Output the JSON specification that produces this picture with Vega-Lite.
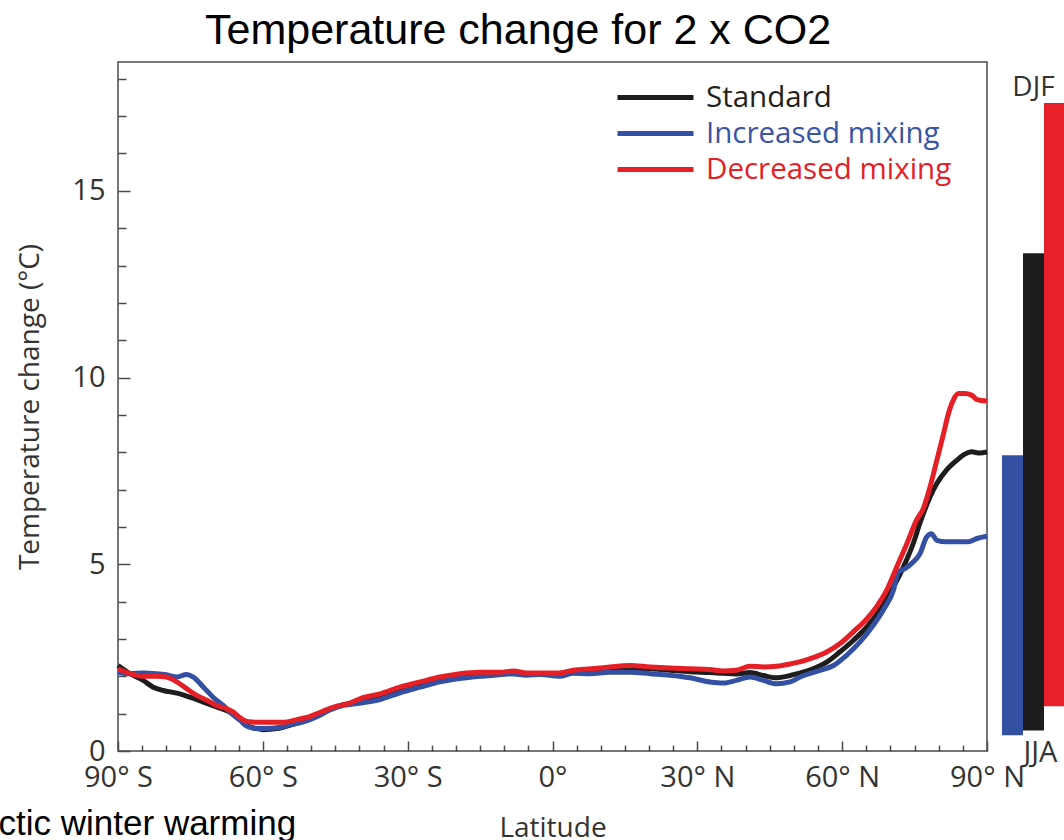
{
  "$schema": "https://vega.github.io/schema/vega-lite/v6.json",
  "autosize": {"type": "none"},
  "padding": {"left": 118, "top": 62, "right": 946, "bottom": 778},
  "background": "white",
  "bounds": "flush",
  "config": {
    "view": {"stroke": null},
    "font": "Open Sans",
    "text": {"font": "Open Sans"}
  },
  "title": {
    "text": "Temperature change for 2 x CO2",
    "font": "Liberation Sans",
    "fontSize": 43,
    "fontWeight": "normal",
    "color": "#000000",
    "anchor": "start",
    "frame": "group",
    "dx": 87,
    "offset": 8
  },
  "datasets": {
    "profiles": [
      {"lat": -90, "series": "Standard", "dT": 2.29},
      {"lat": -87.5, "series": "Standard", "dT": 2.07},
      {"lat": -84.8, "series": "Standard", "dT": 1.89},
      {"lat": -82.7, "series": "Standard", "dT": 1.71},
      {"lat": -80.6, "series": "Standard", "dT": 1.62},
      {"lat": -77.8, "series": "Standard", "dT": 1.55},
      {"lat": -75.1, "series": "Standard", "dT": 1.44},
      {"lat": -72.3, "series": "Standard", "dT": 1.31},
      {"lat": -69.6, "series": "Standard", "dT": 1.18},
      {"lat": -66.8, "series": "Standard", "dT": 1.04},
      {"lat": -64.7, "series": "Standard", "dT": 0.86},
      {"lat": -63.3, "series": "Standard", "dT": 0.69},
      {"lat": -61.3, "series": "Standard", "dT": 0.6},
      {"lat": -59.9, "series": "Standard", "dT": 0.57},
      {"lat": -57.1, "series": "Standard", "dT": 0.6},
      {"lat": -54.4, "series": "Standard", "dT": 0.69},
      {"lat": -51.6, "series": "Standard", "dT": 0.8},
      {"lat": -48.8, "series": "Standard", "dT": 0.95},
      {"lat": -46.1, "series": "Standard", "dT": 1.12},
      {"lat": -43.3, "series": "Standard", "dT": 1.24},
      {"lat": -40, "series": "Standard", "dT": 1.33},
      {"lat": -35.7, "series": "Standard", "dT": 1.47},
      {"lat": -31.6, "series": "Standard", "dT": 1.65},
      {"lat": -27.4, "series": "Standard", "dT": 1.79},
      {"lat": -23.3, "series": "Standard", "dT": 1.92},
      {"lat": -19.2, "series": "Standard", "dT": 2.01},
      {"lat": -15, "series": "Standard", "dT": 2.06},
      {"lat": -10.9, "series": "Standard", "dT": 2.08},
      {"lat": -6, "series": "Standard", "dT": 2.06},
      {"lat": -2.6, "series": "Standard", "dT": 2.05},
      {"lat": 1.5, "series": "Standard", "dT": 2.04},
      {"lat": 4.3, "series": "Standard", "dT": 2.1},
      {"lat": 8.4, "series": "Standard", "dT": 2.14},
      {"lat": 12, "series": "Standard", "dT": 2.2},
      {"lat": 16, "series": "Standard", "dT": 2.22},
      {"lat": 20.2, "series": "Standard", "dT": 2.2},
      {"lat": 24.3, "series": "Standard", "dT": 2.16},
      {"lat": 28.5, "series": "Standard", "dT": 2.12},
      {"lat": 32.6, "series": "Standard", "dT": 2.1},
      {"lat": 35.4, "series": "Standard", "dT": 2.08},
      {"lat": 38.1, "series": "Standard", "dT": 2.06},
      {"lat": 40.9, "series": "Standard", "dT": 2.1},
      {"lat": 43.7, "series": "Standard", "dT": 2.02},
      {"lat": 46, "series": "Standard", "dT": 1.96},
      {"lat": 49.2, "series": "Standard", "dT": 2.02},
      {"lat": 51, "series": "Standard", "dT": 2.08},
      {"lat": 54, "series": "Standard", "dT": 2.2},
      {"lat": 56.8, "series": "Standard", "dT": 2.38},
      {"lat": 59.5, "series": "Standard", "dT": 2.65},
      {"lat": 62.3, "series": "Standard", "dT": 2.96},
      {"lat": 65.1, "series": "Standard", "dT": 3.32},
      {"lat": 67.8, "series": "Standard", "dT": 3.77},
      {"lat": 70.6, "series": "Standard", "dT": 4.39},
      {"lat": 72.7, "series": "Standard", "dT": 4.93},
      {"lat": 74.7, "series": "Standard", "dT": 5.55},
      {"lat": 76.1, "series": "Standard", "dT": 6.1},
      {"lat": 78.2, "series": "Standard", "dT": 6.8},
      {"lat": 79.6, "series": "Standard", "dT": 7.16},
      {"lat": 81.6, "series": "Standard", "dT": 7.52},
      {"lat": 83.7, "series": "Standard", "dT": 7.78},
      {"lat": 85.4, "series": "Standard", "dT": 7.95},
      {"lat": 86.8, "series": "Standard", "dT": 8.01},
      {"lat": 88.5, "series": "Standard", "dT": 7.98},
      {"lat": 90, "series": "Standard", "dT": 8.01},

      {"lat": -90, "series": "Increased mixing", "dT": 2.11},
      {"lat": -87.5, "series": "Increased mixing", "dT": 2.07},
      {"lat": -84.8, "series": "Increased mixing", "dT": 2.09},
      {"lat": -82, "series": "Increased mixing", "dT": 2.07},
      {"lat": -80, "series": "Increased mixing", "dT": 2.04},
      {"lat": -77.8, "series": "Increased mixing", "dT": 1.98},
      {"lat": -75.8, "series": "Increased mixing", "dT": 2.05},
      {"lat": -74.4, "series": "Increased mixing", "dT": 1.98},
      {"lat": -72.3, "series": "Increased mixing", "dT": 1.71},
      {"lat": -70.3, "series": "Increased mixing", "dT": 1.44},
      {"lat": -68.2, "series": "Increased mixing", "dT": 1.22},
      {"lat": -66.8, "series": "Increased mixing", "dT": 1.04},
      {"lat": -64.7, "series": "Increased mixing", "dT": 0.82},
      {"lat": -63.3, "series": "Increased mixing", "dT": 0.66},
      {"lat": -61.3, "series": "Increased mixing", "dT": 0.6},
      {"lat": -59.2, "series": "Increased mixing", "dT": 0.6},
      {"lat": -57.1, "series": "Increased mixing", "dT": 0.62},
      {"lat": -54.4, "series": "Increased mixing", "dT": 0.7},
      {"lat": -51.6, "series": "Increased mixing", "dT": 0.78},
      {"lat": -48.8, "series": "Increased mixing", "dT": 0.92},
      {"lat": -46.1, "series": "Increased mixing", "dT": 1.1},
      {"lat": -43.3, "series": "Increased mixing", "dT": 1.22},
      {"lat": -40, "series": "Increased mixing", "dT": 1.28},
      {"lat": -35.7, "series": "Increased mixing", "dT": 1.38},
      {"lat": -31.6, "series": "Increased mixing", "dT": 1.56},
      {"lat": -27.4, "series": "Increased mixing", "dT": 1.71},
      {"lat": -23.3, "series": "Increased mixing", "dT": 1.85},
      {"lat": -19.2, "series": "Increased mixing", "dT": 1.94},
      {"lat": -15, "series": "Increased mixing", "dT": 2.0},
      {"lat": -10.9, "series": "Increased mixing", "dT": 2.04},
      {"lat": -8.1, "series": "Increased mixing", "dT": 2.07},
      {"lat": -5.4, "series": "Increased mixing", "dT": 2.03},
      {"lat": -2.6, "series": "Increased mixing", "dT": 2.05},
      {"lat": 1.5, "series": "Increased mixing", "dT": 2.0},
      {"lat": 4.3, "series": "Increased mixing", "dT": 2.08},
      {"lat": 7.8, "series": "Increased mixing", "dT": 2.07},
      {"lat": 11.9, "series": "Increased mixing", "dT": 2.11},
      {"lat": 16, "series": "Increased mixing", "dT": 2.11},
      {"lat": 20.2, "series": "Increased mixing", "dT": 2.07},
      {"lat": 24.3, "series": "Increased mixing", "dT": 2.03},
      {"lat": 28.5, "series": "Increased mixing", "dT": 1.96},
      {"lat": 32.6, "series": "Increased mixing", "dT": 1.85},
      {"lat": 35.4, "series": "Increased mixing", "dT": 1.82},
      {"lat": 38.1, "series": "Increased mixing", "dT": 1.89},
      {"lat": 40.9, "series": "Increased mixing", "dT": 1.98},
      {"lat": 43.7, "series": "Increased mixing", "dT": 1.89},
      {"lat": 46.4, "series": "Increased mixing", "dT": 1.8},
      {"lat": 49.2, "series": "Increased mixing", "dT": 1.85},
      {"lat": 51.3, "series": "Increased mixing", "dT": 1.98},
      {"lat": 55.4, "series": "Increased mixing", "dT": 2.16},
      {"lat": 58.2, "series": "Increased mixing", "dT": 2.29},
      {"lat": 60.9, "series": "Increased mixing", "dT": 2.56},
      {"lat": 63.7, "series": "Increased mixing", "dT": 2.92},
      {"lat": 66.4, "series": "Increased mixing", "dT": 3.36},
      {"lat": 68.5, "series": "Increased mixing", "dT": 3.77},
      {"lat": 70.6, "series": "Increased mixing", "dT": 4.3},
      {"lat": 71.6, "series": "Increased mixing", "dT": 4.79},
      {"lat": 73, "series": "Increased mixing", "dT": 4.88},
      {"lat": 74.7, "series": "Increased mixing", "dT": 5.06},
      {"lat": 76.1, "series": "Increased mixing", "dT": 5.28},
      {"lat": 77.5, "series": "Increased mixing", "dT": 5.73},
      {"lat": 78.5, "series": "Increased mixing", "dT": 5.82},
      {"lat": 79.6, "series": "Increased mixing", "dT": 5.64},
      {"lat": 81.6, "series": "Increased mixing", "dT": 5.6},
      {"lat": 83.7, "series": "Increased mixing", "dT": 5.6},
      {"lat": 86.1, "series": "Increased mixing", "dT": 5.6},
      {"lat": 87.9, "series": "Increased mixing", "dT": 5.69},
      {"lat": 90, "series": "Increased mixing", "dT": 5.75},

      {"lat": -90, "series": "Decreased mixing", "dT": 2.2},
      {"lat": -87.5, "series": "Decreased mixing", "dT": 2.07},
      {"lat": -84.8, "series": "Decreased mixing", "dT": 2.0},
      {"lat": -82, "series": "Decreased mixing", "dT": 2.0},
      {"lat": -80, "series": "Decreased mixing", "dT": 1.98},
      {"lat": -77.8, "series": "Decreased mixing", "dT": 1.85},
      {"lat": -75.8, "series": "Decreased mixing", "dT": 1.67},
      {"lat": -73.7, "series": "Decreased mixing", "dT": 1.49},
      {"lat": -71.6, "series": "Decreased mixing", "dT": 1.36},
      {"lat": -69.6, "series": "Decreased mixing", "dT": 1.22},
      {"lat": -67.5, "series": "Decreased mixing", "dT": 1.13},
      {"lat": -66.1, "series": "Decreased mixing", "dT": 1.04},
      {"lat": -64.7, "series": "Decreased mixing", "dT": 0.89},
      {"lat": -63.3, "series": "Decreased mixing", "dT": 0.79},
      {"lat": -61.3, "series": "Decreased mixing", "dT": 0.77},
      {"lat": -58.5, "series": "Decreased mixing", "dT": 0.77},
      {"lat": -55.8, "series": "Decreased mixing", "dT": 0.77},
      {"lat": -53, "series": "Decreased mixing", "dT": 0.84},
      {"lat": -50.2, "series": "Decreased mixing", "dT": 0.93},
      {"lat": -47.5, "series": "Decreased mixing", "dT": 1.07},
      {"lat": -44.7, "series": "Decreased mixing", "dT": 1.2},
      {"lat": -42, "series": "Decreased mixing", "dT": 1.28},
      {"lat": -39.9, "series": "Decreased mixing", "dT": 1.4},
      {"lat": -35.7, "series": "Decreased mixing", "dT": 1.53},
      {"lat": -31.6, "series": "Decreased mixing", "dT": 1.71},
      {"lat": -27.4, "series": "Decreased mixing", "dT": 1.85},
      {"lat": -23.3, "series": "Decreased mixing", "dT": 1.98},
      {"lat": -19.2, "series": "Decreased mixing", "dT": 2.07},
      {"lat": -15, "series": "Decreased mixing", "dT": 2.11},
      {"lat": -10.9, "series": "Decreased mixing", "dT": 2.11},
      {"lat": -8.1, "series": "Decreased mixing", "dT": 2.14},
      {"lat": -5.4, "series": "Decreased mixing", "dT": 2.09},
      {"lat": -2.6, "series": "Decreased mixing", "dT": 2.09},
      {"lat": 1.5, "series": "Decreased mixing", "dT": 2.09},
      {"lat": 4.3, "series": "Decreased mixing", "dT": 2.16},
      {"lat": 8, "series": "Decreased mixing", "dT": 2.2},
      {"lat": 11.9, "series": "Decreased mixing", "dT": 2.25},
      {"lat": 16, "series": "Decreased mixing", "dT": 2.29},
      {"lat": 20.2, "series": "Decreased mixing", "dT": 2.25},
      {"lat": 24.3, "series": "Decreased mixing", "dT": 2.22},
      {"lat": 28.5, "series": "Decreased mixing", "dT": 2.2},
      {"lat": 32.6, "series": "Decreased mixing", "dT": 2.18},
      {"lat": 35.4, "series": "Decreased mixing", "dT": 2.14},
      {"lat": 38.1, "series": "Decreased mixing", "dT": 2.16},
      {"lat": 40.9, "series": "Decreased mixing", "dT": 2.27},
      {"lat": 43.7, "series": "Decreased mixing", "dT": 2.25},
      {"lat": 46.4, "series": "Decreased mixing", "dT": 2.27},
      {"lat": 49.2, "series": "Decreased mixing", "dT": 2.33},
      {"lat": 51, "series": "Decreased mixing", "dT": 2.38},
      {"lat": 54, "series": "Decreased mixing", "dT": 2.5},
      {"lat": 56.8, "series": "Decreased mixing", "dT": 2.65},
      {"lat": 59.5, "series": "Decreased mixing", "dT": 2.87},
      {"lat": 62.3, "series": "Decreased mixing", "dT": 3.19},
      {"lat": 65.1, "series": "Decreased mixing", "dT": 3.54},
      {"lat": 67.1, "series": "Decreased mixing", "dT": 3.86},
      {"lat": 69.2, "series": "Decreased mixing", "dT": 4.3},
      {"lat": 71.3, "series": "Decreased mixing", "dT": 4.93},
      {"lat": 73.4, "series": "Decreased mixing", "dT": 5.55},
      {"lat": 75.4, "series": "Decreased mixing", "dT": 6.18},
      {"lat": 76.8, "series": "Decreased mixing", "dT": 6.49},
      {"lat": 78.2, "series": "Decreased mixing", "dT": 7.07},
      {"lat": 79.6, "series": "Decreased mixing", "dT": 7.78},
      {"lat": 81, "series": "Decreased mixing", "dT": 8.5},
      {"lat": 82, "series": "Decreased mixing", "dT": 9.03},
      {"lat": 83, "series": "Decreased mixing", "dT": 9.39},
      {"lat": 84.1, "series": "Decreased mixing", "dT": 9.57},
      {"lat": 85.4, "series": "Decreased mixing", "dT": 9.57},
      {"lat": 86.8, "series": "Decreased mixing", "dT": 9.53},
      {"lat": 87.9, "series": "Decreased mixing", "dT": 9.41},
      {"lat": 90, "series": "Decreased mixing", "dT": 9.37}
    ],
    "ranges": [
      {"series": "Increased mixing", "jja": 0.42, "djf": 7.92},
      {"series": "Standard", "jja": 0.55, "djf": 13.33},
      {"series": "Decreased mixing", "jja": 1.2, "djf": 17.35}
    ]
  },
  "resolve": {"scale": {"x": "independent", "y": "independent", "color": "independent"}},
  "spacing": 15,
  "hconcat": [
    {
      "width": 869,
      "height": 689,
      "view": {"stroke": "#4a4a4a", "strokeWidth": 1.5},
      "layer": [
        {
          "data": {"name": "profiles"},
          "mark": {"type": "line", "strokeWidth": 5, "interpolate": "monotone"},
          "encoding": {
            "x": {
              "field": "lat",
              "type": "quantitative",
              "scale": {"domain": [-90, 90], "nice": false, "zero": false},
              "axis": {
                "values": [-90, -85, -80, -75, -70, -65, -60, -55, -50, -45, -40, -35, -30, -25, -20, -15, -10, -5, 0, 5, 10, 15, 20, 25, 30, 35, 40, 45, 50, 55, 60, 65, 70, 75, 80, 85, 90],
                "tickCount": 60,
                "labelExpr": "datum.value % 30 !== 0 ? '' : (datum.value === 0 ? '0°' : abs(datum.value) + '° ' + (datum.value < 0 ? 'S' : 'N'))",
                "tickSize": {"condition": {"test": "datum.value % 30 === 0", "value": -10}, "value": -6},
                "tickColor": "#4a4a4a",
                "tickWidth": 1.5,
                "domain": false,
                "grid": false,
                "labelPadding": 22,
                "labelFlush": false,
                "labelOverlap": false,
                "labelBound": false,
                "labelFont": "Open Sans",
                "labelFontSize": 29,
                "labelColor": "#333333",
                "title": "Latitude",
                "titleFont": "Open Sans",
                "titleFontSize": 28,
                "titleFontWeight": "normal",
                "titleColor": "#333333",
                "titlePadding": 18
              }
            },
            "y": {
              "field": "dT",
              "type": "quantitative",
              "scale": {"domain": [0, 18.45], "nice": false},
              "axis": {
                "values": [0, 1, 2, 3, 4, 5, 6, 7, 8, 9, 10, 11, 12, 13, 14, 15, 16, 17, 18],
                "tickCount": 40,
                "labelExpr": "datum.value % 5 === 0 ? '' + datum.value : ''",
                "tickSize": {"condition": {"test": "datum.value % 5 === 0", "value": -12}, "value": -8},
                "tickColor": "#4a4a4a",
                "tickWidth": 1.5,
                "domain": false,
                "grid": false,
                "labelPadding": 25,
                "labelFlush": false,
                "labelOverlap": false,
                "labelBound": false,
                "labelFont": "Open Sans",
                "labelFontSize": 29,
                "labelColor": "#333333",
                "minExtent": 50,
                "maxExtent": 50,
                "title": "Temperature change (°C)",
                "titleFont": "Open Sans",
                "titleFontSize": 28,
                "titleFontWeight": "normal",
                "titleColor": "#333333",
                "titlePadding": 24
              }
            },
            "color": {
              "field": "series",
              "type": "nominal",
              "scale": {
                "domain": ["Standard", "Increased mixing", "Decreased mixing"],
                "range": ["#1f1c1d", "#3350a2", "#e41f26"]
              },
              "legend": {
                "title": null,
                "orient": "none",
                "legendX": 522,
                "legendY": 20,
                "padding": 0,
                "symbolType": "M-3,0H3",
                "symbolSize": 642,
                "symbolStrokeWidth": 5,
                "labelOffset": 35,
                "rowPadding": 6,
                "labelFont": "Open Sans",
                "labelFontSize": 29.5,
                "labelLimit": 400,
                "labelColor": {"expr": "datum.label === 'Standard' ? '#231f20' : datum.label === 'Increased mixing' ? '#3a55a5' : '#e41f26'"}
              }
            }
          }
        },
        {
          "data": {"values": [{"note": "Arctic winter warming"}]},
          "mark": {"type": "text", "font": "Liberation Sans", "fontSize": 35, "align": "right", "baseline": "alphabetic", "color": "#000000"},
          "encoding": {
            "x": {"datum": -53.1},
            "y": {"datum": -2.26},
            "text": {"field": "note"}
          }
        }
      ]
    },
    {
      "width": 63,
      "height": 689,
      "layer": [
        {
          "data": {"name": "ranges"},
          "mark": {"type": "bar"},
          "encoding": {
            "x": {
              "field": "series",
              "type": "nominal",
              "sort": ["Increased mixing", "Standard", "Decreased mixing"],
              "scale": {"domain": ["Increased mixing", "Standard", "Decreased mixing"], "paddingInner": 0, "paddingOuter": 0},
              "axis": null
            },
            "y": {"field": "jja", "type": "quantitative", "scale": {"domain": [0, 18.45], "nice": false}, "axis": null},
            "y2": {"field": "djf"},
            "color": {
              "field": "series",
              "type": "nominal",
              "scale": {
                "domain": ["Standard", "Increased mixing", "Decreased mixing"],
                "range": ["#1f1c1d", "#3350a2", "#e8202a"]
              },
              "legend": null
            }
          }
        },
        {
          "data": {"values": [{"season": "DJF"}]},
          "mark": {"type": "text", "fontSize": 28, "align": "center", "baseline": "middle", "color": "#333333"},
          "encoding": {
            "x": {"datum": "Standard"},
            "y": {"datum": 17.75},
            "text": {"field": "season"}
          }
        },
        {
          "data": {"values": [{"season": "JJA"}]},
          "mark": {"type": "text", "fontSize": 29, "align": "left", "baseline": "middle", "dx": -10, "dy": 2, "color": "#333333"},
          "encoding": {
            "x": {"datum": "Standard"},
            "y": {"datum": 0},
            "text": {"field": "season"}
          }
        }
      ]
    }
  ]
}
